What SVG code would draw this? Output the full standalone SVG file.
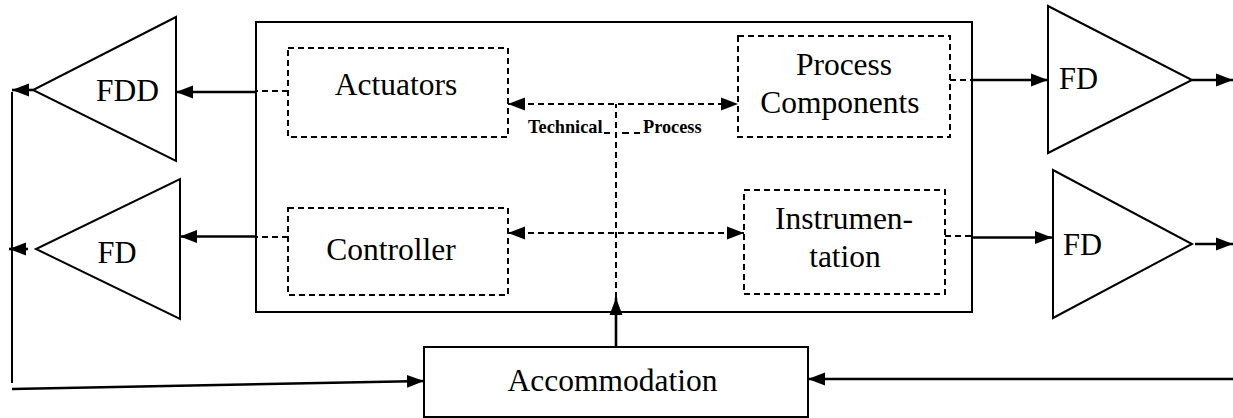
<svg xmlns="http://www.w3.org/2000/svg" width="1233" height="418" viewBox="0 0 1233 418">
  <style>
    .frame { fill: none; stroke: #000; stroke-width: 2; }
    .tri { fill: #fff; stroke: #000; stroke-width: 2; stroke-linejoin: miter; }
    .sub { fill: none; stroke: #000; stroke-width: 2; stroke-dasharray: 6 4; }
    .solid { fill: none; stroke: #000; stroke-width: 2.6; }
    .dash { fill: none; stroke: #000; stroke-width: 2; stroke-dasharray: 6 4; }
    .thin { fill: none; stroke: #000; stroke-width: 2; }
    .lbl { font-family: "Liberation Serif", "Times New Roman", serif; font-size: 31.5px; fill: #000; text-anchor: middle; }
    .fd { font-size: 30.5px; }
    .small { font-family: "Liberation Serif", "Times New Roman", serif; font-size: 18.3px; font-weight: bold; fill: #000; }
  </style>
  <defs>
    <marker id="arrow" markerUnits="userSpaceOnUse" markerWidth="17" markerHeight="14" refX="17" refY="7" orient="auto-start-reverse">
      <path d="M0,0.5 L17,7 L0,13.5 Z" fill="#000"/>
    </marker>
  </defs>

  <rect width="1233" height="418" fill="#fff"/>

  <!-- technical process frame -->
  <g id="technical-process">
    <rect class="frame" x="256" y="22" width="716" height="290"/>
  </g>

  <g id="actuators">
    <rect class="sub" x="288" y="48" width="220" height="89"/>
    <text class="lbl" x="396" y="95">Actuators</text>
  </g>

  <g id="process-components">
    <rect class="sub" x="738" y="36" width="212" height="101"/>
    <text class="lbl" x="844" y="75">Process</text>
    <text class="lbl" x="840" y="112.7">Components</text>
  </g>

  <g id="controller">
    <rect class="sub" x="288" y="208" width="220" height="87"/>
    <text class="lbl" x="391" y="260">Controller</text>
  </g>

  <g id="instrumentation">
    <rect class="sub" x="744" y="190" width="201" height="104"/>
    <text class="lbl" x="844" y="228.5">Instrumen-</text>
    <text class="lbl" x="845" y="266.7">tation</text>
  </g>

  <g id="accommodation">
    <rect class="frame" x="424" y="347" width="384" height="70"/>
    <text class="lbl" x="612.5" y="391">Accommodation</text>
  </g>

  <g id="fdd">
    <polygon class="tri" points="176,17 176,161 33,90"/>
    <text class="lbl" x="127.5" y="101">FDD</text>
  </g>

  <g id="fd-left">
    <polygon class="tri" points="180,179 180,319 36,249"/>
    <text class="lbl fd" x="117" y="263">FD</text>
  </g>

  <g id="fd-right-top">
    <polygon class="tri" points="1048,6 1048,153 1192,80"/>
    <text class="lbl fd" x="1078.5" y="89">FD</text>
  </g>

  <g id="fd-right-bottom">
    <polygon class="tri" points="1053,170 1053,318 1192,244"/>
    <text class="lbl fd" x="1082.5" y="255">FD</text>
  </g>

  <g id="connectors">
    <!-- actuators to FDD -->
    <path class="dash" d="M288,91 H256"/>
    <path class="solid" d="M256,92 H176" marker-end="url(#arrow)"/>
    <!-- FDD output -->
    <path class="solid" d="M33,90 H12" marker-end="url(#arrow)"/>
    <!-- left feedback path -->
    <path class="thin" d="M12,92 V383"/>
    <path class="solid" d="M12,389 L424,381" marker-end="url(#arrow)"/>
    <!-- controller to FD -->
    <path class="dash" d="M288,237 H256"/>
    <path class="solid" d="M256,236.5 H180" marker-end="url(#arrow)"/>
    <!-- left FD output -->
    <path class="solid" d="M28,249 H9" marker-end="url(#arrow)"/>
    <!-- process components to FD -->
    <path class="dash" d="M950,80 H972"/>
    <path class="solid" d="M972,80 H1048" marker-end="url(#arrow)"/>
    <path class="solid" d="M1192,80 H1233" marker-end="url(#arrow)"/>
    <!-- instrumentation to FD -->
    <path class="dash" d="M945,236 H972"/>
    <path class="solid" d="M972,237.5 H1052" marker-end="url(#arrow)"/>
    <path class="solid" d="M1195,244 H1233" marker-end="url(#arrow)"/>
    <!-- right input to accommodation -->
    <path class="solid" d="M1233,379 H808" marker-end="url(#arrow)"/>
    <!-- accommodation into process -->
    <path class="solid" d="M616,347 V298" marker-end="url(#arrow)"/>
    <path class="dash" d="M616,298 V104"/>
    <!-- internal exchanges -->
    <path class="dash" d="M508,104 H738" marker-start="url(#arrow)" marker-end="url(#arrow)"/>
    <path class="dash" d="M508,233 H744" marker-start="url(#arrow)" marker-end="url(#arrow)"/>
    <path class="thin" d="M604,133 H610 M622,133 H629 M634,133 H640"/>
  </g>

  <text class="small" x="528" y="133">Technical</text>
  <text class="small" x="643" y="133">Process</text>
</svg>
